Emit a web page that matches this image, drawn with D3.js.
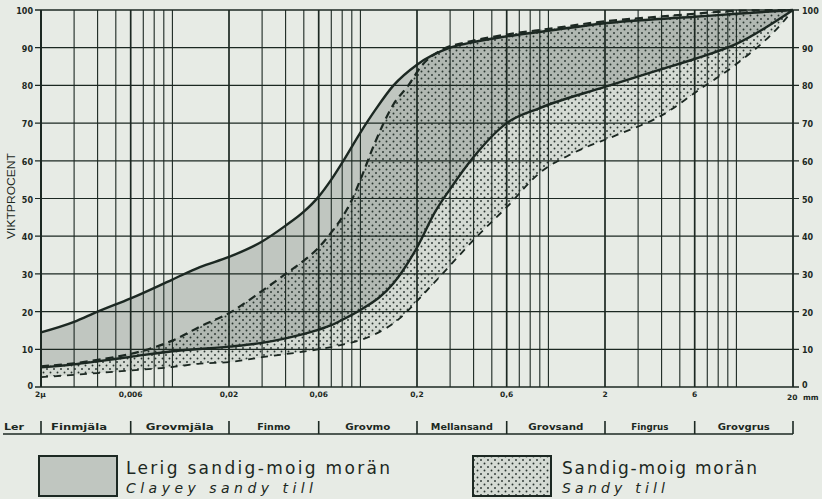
<!DOCTYPE html>
<html><head><meta charset="utf-8">
<script src="https://cdn.jsdelivr.net/npm/d3@7"></script>
<style>
html,body{margin:0;padding:0;background:#e7ebe5;}
svg{display:block;}
</style></head>
<body>
<script>
// ---- DATA (grain size in mm, percent passing) ----
const clayUpper = [[0.002,14.5],[0.003,17.3],[0.004,20],[0.006,23.5],[0.01,28.5],[0.014,31.8],[0.02,34.5],[0.03,38.6],[0.04,42.8],[0.05,46.5],[0.06,50.5],[0.07,55],[0.08,59.5],[0.1,67.5],[0.12,73.5],[0.15,80],[0.2,85.5],[0.3,90],[0.4,91.5],[0.6,93],[1,94.5],[2,96.5],[6,98.2],[10,99],[20,100]];
const clayLower = [[0.002,5.2],[0.003,6],[0.004,6.8],[0.006,8],[0.01,9.5],[0.02,10.7],[0.03,11.7],[0.04,12.9],[0.06,15.2],[0.07,16.4],[0.08,17.8],[0.1,20.4],[0.15,27.5],[0.2,37],[0.25,46.5],[0.3,52.5],[0.4,61],[0.6,70],[0.9,74],[2,79.6],[4,84.3],[6,87],[10,91],[20,100]];
const sandUpper = [[0.002,5.5],[0.003,6.3],[0.004,7.2],[0.006,8.8],[0.008,10.5],[0.01,12.3],[0.014,16],[0.02,19.6],[0.03,25.5],[0.04,30],[0.05,33.5],[0.06,37],[0.07,41],[0.08,45],[0.09,49.6],[0.1,55],[0.12,65],[0.15,75],[0.18,80],[0.21,85],[0.27,89.4],[0.37,91.5],[0.6,93.5],[1,95],[2,97],[4,98.3],[6,99],[10,99.8],[20,100]];
const sandLower = [[0.002,2.6],[0.004,3.7],[0.006,4.4],[0.01,5.3],[0.014,6.2],[0.02,6.6],[0.03,7.9],[0.05,9.4],[0.07,10.6],[0.09,11.8],[0.11,13.2],[0.16,18],[0.22,25],[0.33,34.5],[0.4,39],[0.6,47.7],[0.9,56.8],[1.35,62],[2.3,66.8],[4,72],[6.4,79],[9.6,85],[17.7,96.8],[20,100]];

const gridSizes = [0.002,0.003,0.004,0.005,0.006,0.007,0.008,0.009,0.01,0.02,0.03,0.04,0.05,0.06,0.07,0.08,0.09,0.1,0.2,0.3,0.4,0.5,0.6,0.7,0.8,0.9,1,2,3,4,5,6,7,8,9,10,20];
const majorSizes = [0.006,0.02,0.06,0.2,0.6,2,6];
const xTickValues = [0.002,0.006,0.02,0.06,0.2,0.6,2,6,20];
const xTickLabels = ["2\u00b5","0,006","0,02","0,06","0,2","0,6","2","6","20"];
const yTicks = [0,10,20,30,40,50,60,70,80,90,100];
const fractionNames = ["Finmjäla","Grovmjäla","Finmo","Grovmo","Mellansand","Grovsand","Fingrus","Grovgrus"];
const legendSwedish = ["Lerig sandig-moig morän","Sandig-moig morän"];
const legendEnglish = ["Clayey sandy till","Sandy till"];

const W = 822, H = 499;
const ink = "#1c2822";
const greyFill = "#c0c6c0";
const svg = d3.select("body").append("svg").attr("width",W).attr("height",H);
svg.append("rect").attr("width",W).attr("height",H).attr("fill","#e7ebe5");

const x = d3.scaleLog().domain([0.002,20]).range([41,793]);
const y = d3.scaleLinear().domain([0,100]).range([387,10]);

const defs = svg.append("defs");
const pat = defs.append("pattern").attr("id","dots").attr("patternUnits","userSpaceOnUse")
  .attr("width",7).attr("height",7);
pat.append("rect").attr("width",7).attr("height",7).attr("fill","rgba(20,40,30,0.09)");
pat.append("circle").attr("cx",1.5).attr("cy",1.5).attr("r",0.95).attr("fill","#2a3530");
pat.append("circle").attr("cx",5).attr("cy",5).attr("r",0.95).attr("fill","#2a3530");

const areaBelow = d3.area().x(d=>x(d[0])).y0(y(0)).y1(d=>y(d[1])).curve(d3.curveMonotoneX);
const areaAbove = d3.area().x(d=>x(d[0])).y0(y(100)-2).y1(d=>y(d[1])).curve(d3.curveMonotoneX);
const line = d3.line().x(d=>x(d[0])).y(d=>y(d[1])).curve(d3.curveMonotoneX);

defs.append("clipPath").attr("id","clipClay").append("path").attr("d",areaAbove(clayLower));
defs.append("clipPath").attr("id","clipSand").append("path").attr("d",areaAbove(sandLower));

// fills
svg.append("path").attr("d",areaBelow(clayUpper)).attr("clip-path","url(#clipClay)").attr("fill",greyFill);
svg.append("path").attr("d",areaBelow(sandUpper)).attr("clip-path","url(#clipSand)").attr("fill","url(#dots)");

// grid
const g = svg.append("g");
g.selectAll("line.v").data(gridSizes).join("line")
  .attr("x1",d=>x(d)).attr("x2",d=>x(d)).attr("y1",y(100)).attr("y2",y(0))
  .attr("stroke",ink).attr("stroke-width",d=>majorSizes.includes(d)?1.7:1.1);
g.selectAll("line.h").data(yTicks).join("line")
  .attr("x1",35).attr("x2",799).attr("y1",d=>y(d)).attr("y2",d=>y(d))
  .attr("stroke",ink).attr("stroke-width",d=>(d===0||d===100)?1.6:1.2);
g.append("line").attr("x1",x(0.002)).attr("x2",x(0.002)).attr("y1",y(100)).attr("y2",y(0)).attr("stroke",ink).attr("stroke-width",2);
g.append("line").attr("x1",x(20)).attr("x2",x(20)).attr("y1",y(100)).attr("y2",y(0)).attr("stroke",ink).attr("stroke-width",1.6);

// curves
svg.append("path").attr("d",line(clayUpper)).attr("fill","none").attr("stroke",ink).attr("stroke-width",2.4);
svg.append("path").attr("d",line(clayLower)).attr("fill","none").attr("stroke",ink).attr("stroke-width",2.4);
svg.append("path").attr("d",line(sandUpper)).attr("fill","none").attr("stroke",ink).attr("stroke-width",2.2).attr("stroke-dasharray","8,5");
svg.append("path").attr("d",line(sandLower)).attr("fill","none").attr("stroke",ink).attr("stroke-width",1.8).attr("stroke-dasharray","7,6");

// y labels
const lblFont = "'DejaVu Sans', sans-serif";
svg.selectAll("text.yl").data(yTicks).join("text")
  .attr("x",33).attr("y",d=> d===0 ? y(d)+2 : y(d)+4).attr("text-anchor","end")
  .attr("font-family",lblFont).attr("font-size",8).attr("font-weight","bold").attr("fill",ink).text(d=>d);
svg.selectAll("text.yr").data(yTicks).join("text")
  .attr("x",802).attr("y",d=> d===0 ? y(d)+1 : y(d)+4).attr("text-anchor","start")
  .attr("font-family",lblFont).attr("font-size",8).attr("font-weight","bold").attr("fill",ink).text(d=>d);
svg.append("text").attr("transform","translate(15,196) rotate(-90)").attr("text-anchor","middle")
  .attr("font-family","'Liberation Sans', Arial, sans-serif").attr("font-size",10).attr("fill",ink)
  .attr("textLength",86).attr("lengthAdjust","spacingAndGlyphs").text("VIKTPROCENT");

// x labels
svg.selectAll("text.xl").data(xTickValues).join("text")
  .attr("x",(d,i)=> i===0 ? x(d)-6 : (i===xTickValues.length-1 ? x(d)-6 : x(d)))
  .attr("y",(d,i)=> i===xTickValues.length-1 ? 400 : 397)
  .attr("text-anchor",(d,i)=> i===0||i===xTickValues.length-1?"start":"middle")
  .attr("font-family",lblFont).attr("font-size",7.5).attr("font-weight","bold").attr("fill",ink)
  .text((d,i)=>xTickLabels[i]);
svg.append("text").attr("x",803).attr("y",400).attr("font-family",lblFont).attr("font-size",7.5)
  .attr("font-weight","bold").attr("fill",ink).text("mm");

// fraction bar
const barY = 434;
svg.append("line").attr("x1",3).attr("x2",x(20)).attr("y1",barY).attr("y2",barY).attr("stroke",ink).attr("stroke-width",1.6);
svg.selectAll("line.ft").data(xTickValues).join("line")
  .attr("x1",d=>x(d)).attr("x2",d=>x(d)).attr("y1",421).attr("y2",barY).attr("stroke",ink).attr("stroke-width",1.6);
svg.append("text").attr("x",14).attr("y",430).attr("text-anchor","middle").attr("font-family",lblFont)
  .attr("font-size",9).attr("font-weight","bold").attr("fill",ink).attr("textLength",20).attr("lengthAdjust","spacingAndGlyphs").text("Ler");
const fracWidths = [56,68,33,45,62,55,37,52];
svg.selectAll("text.fr").data(fractionNames).join("text")
  .attr("x",(d,i)=> i===0 ? 79 : (x(xTickValues[i])+x(xTickValues[i+1]))/2)
  .attr("y",430).attr("text-anchor","middle").attr("font-family",lblFont)
  .attr("font-size",9).attr("font-weight","bold").attr("fill",ink)
  .attr("textLength",(d,i)=>fracWidths[i]).attr("lengthAdjust","spacingAndGlyphs").text(d=>d);

// legend
const legX = [39,473], legTextX = [126,562];
const swWidths = [264,195], enWidths = [187,103];
legX.forEach((lx,i)=>{
  svg.append("rect").attr("x",lx).attr("y",456).attr("width",78).attr("height",40)
    .attr("fill", i===0 ? greyFill : "url(#dots)").attr("stroke",ink).attr("stroke-width",2);
  svg.append("text").attr("x",legTextX[i]).attr("y",474).attr("font-family","'DejaVu Sans', sans-serif")
    .attr("font-size",17).attr("fill",ink).attr("textLength",swWidths[i]).attr("lengthAdjust","spacing").text(legendSwedish[i]);
  svg.append("text").attr("x",legTextX[i]).attr("y",493).attr("font-family","'DejaVu Sans', sans-serif")
    .attr("font-size",14).attr("font-style","italic").attr("fill",ink).attr("textLength",enWidths[i]).attr("lengthAdjust","spacing").text(legendEnglish[i]);
});
</script>
</body></html>
